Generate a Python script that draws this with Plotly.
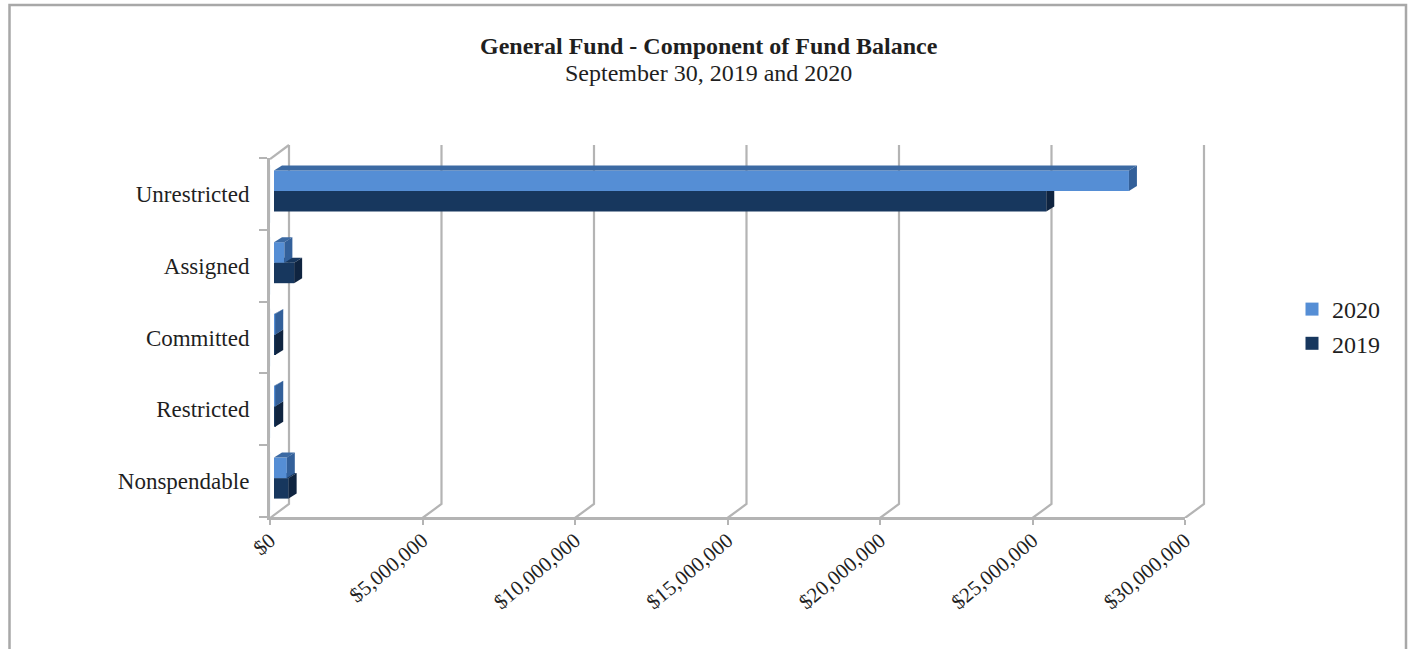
import plotly.graph_objects as go

# ---- data ----
categories = ["Nonspendable", "Restricted", "Committed", "Assigned", "Unrestricted"]
values_2020 = [420000, 40000, 40000, 340000, 28030000]
values_2019 = [480000, 40000, 40000, 660000, 25320000]
tick_values = [0, 5000000, 10000000, 15000000, 20000000, 25000000, 30000000]
tick_labels = ["$0", "$5,000,000", "$10,000,000", "$15,000,000", "$20,000,000", "$25,000,000", "$30,000,000"]
title_main = "General Fund - Component of Fund Balance"
title_sub = "September 30, 2019 and 2020"

# ---- style ----
W, H = 1412, 649
FONT = "Liberation Serif"
TEXT = "#1f1f1f"
GRID = "#b4b4b4"
C20, C20_SIDE, C20_TOP = "#558ed5", "#33609a", "#3c6aa3"
C19, C19_SIDE, C19_TOP = "#17375e", "#0f2440", "#17375e"
XMAX = 30000000
PX_W, PX_H = 915.0, 359.0


def xdom(x0, w=PX_W):
    return [x0 / W, (x0 + w) / W]


def ydom(top, h=PX_H):
    return [1 - (top + h) / H, 1 - top / H]


ppx = XMAX / PX_W      # data units per pixel
ppy = 5 / PX_H         # band units per pixel
ypos = list(range(len(categories)))
bar_h = 20.5 * ppy

fig = go.Figure()

# back wall: vertical gridlines and their floor diagonals, plus the top-left edge
dx, dy = 19 * ppx, 14 * ppy
pad_px = 6
wx, wy = [], []
for v in tick_values:
    wx += [v - dx, v, v, None]
    wy += [-0.5 - dy, -0.5, 4.5, None]
wx += [-dx, 0]
wy += [4.5 - dy, 4.5]
fig.add_trace(go.Scatter(x=wx, y=wy, mode="lines", line=dict(color=GRID, width=2.2),
                         showlegend=False, hoverinfo="skip", xaxis="x", yaxis="y"))

# 3D faces of the bars, derived from the values
bx, by = 8 * ppx, 5 * ppy


def faces(vals, offset_sign, side_col, top_col, xa, ya):
    for v, y in zip(vals, ypos):
        lo = y if offset_sign > 0 else y - bar_h
        hi = lo + bar_h
        fig.add_trace(go.Scatter(x=[0, bx, v + bx, v], y=[hi, hi + by, hi + by, hi], mode="lines", fill="toself",
                                 fillcolor=top_col, line=dict(width=0), cliponaxis=False,
                                 showlegend=False, hoverinfo="skip", xaxis=xa, yaxis=ya))
        fig.add_trace(go.Scatter(x=[v, v + bx, v + bx, v], y=[lo, lo + by, hi + by, hi], mode="lines", fill="toself",
                                 fillcolor=side_col, line=dict(width=0), cliponaxis=False,
                                 showlegend=False, hoverinfo="skip", xaxis=xa, yaxis=ya))


fig.add_trace(go.Bar(name="2019", x=values_2019, y=ypos, orientation="h", width=bar_h,
                     offset=-bar_h, marker=dict(color=C19, line=dict(width=0)), cliponaxis=False,
                     showlegend=False, xaxis="x2", yaxis="y2"))
faces(values_2019, -1, C19_SIDE, C19_TOP, "x2", "y2")
fig.add_trace(go.Bar(name="2020", x=values_2020, y=ypos, orientation="h", width=bar_h,
                     offset=0, marker=dict(color=C20, line=dict(width=0)), cliponaxis=False,
                     showlegend=False, xaxis="x3", yaxis="y3"))
faces(values_2020, 1, C20_SIDE, C20_TOP, "x3", "y3")

# invisible trace that makes the front axes categorical; legend entries
fig.add_trace(go.Bar(x=[0] * len(categories), y=categories, orientation="h", showlegend=False,
                     hoverinfo="skip", marker=dict(color="rgba(0,0,0,0)"), xaxis="x4", yaxis="y4"))
fig.add_trace(go.Scatter(x=[None], y=[None], name="2020", mode="markers",
                         marker=dict(symbol="square", size=13, color=C20), xaxis="x4", yaxis="y4"))
fig.add_trace(go.Scatter(x=[None], y=[None], name="2019", mode="markers",
                         marker=dict(symbol="square", size=13, color=C19), xaxis="x4", yaxis="y4"))

hidden = dict(visible=False, fixedrange=True)
bar_px0 = 274
bar_top = 155
fig.update_layout(
    width=W, height=H, autosize=False,
    margin=dict(l=0, r=0, t=0, b=0, autoexpand=False),
    paper_bgcolor="white", plot_bgcolor="rgba(0,0,0,0)",
    font=dict(family=FONT, color=TEXT, size=20),
    barmode="overlay",
    # back wall: axes widened by the depth so the diagonals stay inside the subplot
    xaxis=dict(domain=xdom(270, 19 + PX_W + pad_px), range=[-dx, XMAX + pad_px * ppx], anchor="y", **hidden),
    yaxis=dict(domain=ydom(145 - pad_px, PX_H + 14 + pad_px), range=[-0.5 - dy, 4.5 + pad_px * ppy], anchor="x", **hidden),
    # bar planes
    xaxis2=dict(domain=xdom(bar_px0), range=[0, XMAX], anchor="y2", **hidden),
    yaxis2=dict(domain=ydom(bar_top), range=[-0.5, 4.5], anchor="x2", **hidden),
    xaxis3=dict(domain=xdom(bar_px0), range=[0, XMAX], anchor="y3", **hidden),
    yaxis3=dict(domain=ydom(bar_top), range=[-0.5, 4.5], anchor="x3", **hidden),
    # front axes
    xaxis4=dict(domain=xdom(270), range=[0, XMAX], tickvals=tick_values, ticktext=tick_labels, tickangle=-40,
                ticks="outside", ticklen=5, tickcolor=GRID, tickwidth=2, showline=True, linecolor=GRID, linewidth=3,
                showgrid=False, zeroline=False, anchor="y4", ticklabelstandoff=-5,
                tickfont=dict(size=21, family=FONT, color=TEXT)),
    yaxis4=dict(domain=ydom(158), type="category", categoryorder="array", categoryarray=categories,
                range=[-0.5, 4.5], tickson="boundaries", ticks="outside", ticklen=8, tickcolor=GRID, tickwidth=2,
                showline=True, linecolor=GRID, linewidth=3, showgrid=False, zeroline=False, anchor="x4",
                ticklabelstandoff=13, tickfont=dict(size=23, family=FONT, color=TEXT)),
    legend=dict(x=1292 / W, y=1 - 287 / H, xanchor="left", yanchor="top", bgcolor="rgba(0,0,0,0)",
                traceorder="normal", font=dict(size=24, family=FONT, color=TEXT), itemclick=False,
                itemdoubleclick=False, tracegroupgap=0),
    annotations=[
        dict(text="<b>" + title_main + "</b>", x=709 / W, y=1 - 46 / H, xref="paper", yref="paper",
             showarrow=False, xanchor="center", yanchor="middle", font=dict(size=24, family=FONT, color=TEXT)),
        dict(text=title_sub, x=708 / W, y=1 - 73 / H, xref="paper", yref="paper",
             showarrow=False, xanchor="center", yanchor="middle", font=dict(size=24, family=FONT, color=TEXT)),
    ],
    shapes=[dict(type="rect", xref="paper", yref="paper", x0=9.5 / W, x1=1406 / W, y0=-0.05, y1=1 - 5 / H,
                 line=dict(color="#a8a8a8", width=2.5), layer="below")],
)

fig.write_html("out.html", post_script="document.body.style.margin='0';document.body.style.overflow='hidden';",
               config=dict(displayModeBar=False))
